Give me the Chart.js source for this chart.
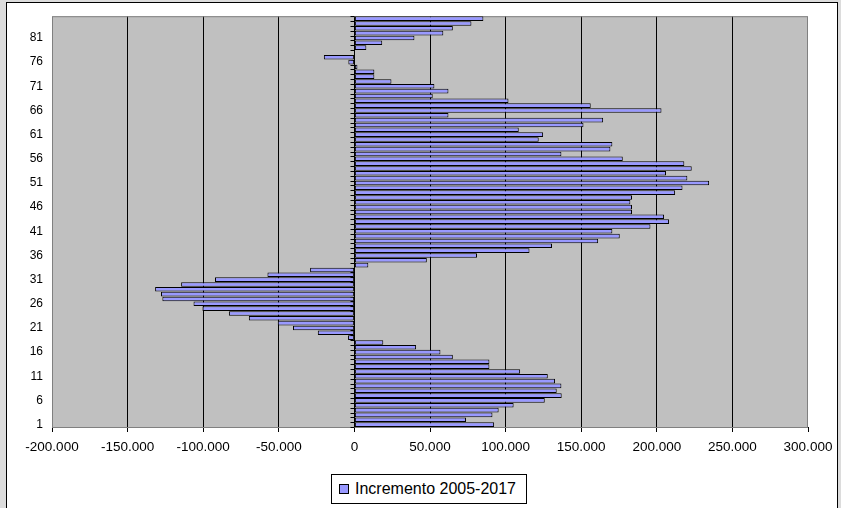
<!DOCTYPE html>
<html lang="es">
<head>
<meta charset="utf-8">
<title>Incremento 2005-2017</title>
<script src="https://cdn.jsdelivr.net/npm/chart.js@4.4.1/dist/chart.umd.min.js"></script>
<style>
  html, body { margin: 0; padding: 0; }
  body {
    width: 841px; height: 508px; overflow: hidden; position: relative;
    background: #dcdcdc;
    font-family: "Liberation Sans", Arial, sans-serif;
  }
  #marco {
    position: absolute; left: 6px; top: 2px; width: 830px; height: 520px;
    background: #fff; border: 1px solid #000;
  }
  #contenedor { position: absolute; left: 0; top: 0; width: 841px; height: 508px; }
  #leyenda {
    position: absolute; left: 331px; top: 474px; width: 194px; height: 28px;
    border: 1px solid #000; background: #fff;
    display: flex; align-items: center; font-size: 16px; color: #000;
  }
  #leyenda .marca {
    width: 8px; height: 8px; background: #9999ff; border: 1px solid #000;
    margin-left: 7px; margin-right: 6px;
  }
</style>
</head>
<body>
<div id="marco"></div>
<div id="contenedor"><canvas id="grafica"></canvas></div>
<div id="leyenda"><span class="marca"></span><span id="leyenda-texto"></span></div>

<script>
// Datos de la gráfica
const serieNombre = 'Incremento 2005-2017';

const edades = [
    '1', '2', '3', '4', '5', '6', '7', '8', '9', '10',
    '11', '12', '13', '14', '15', '16', '17', '18', '19', '20',
    '21', '22', '23', '24', '25', '26', '27', '28', '29', '30',
    '31', '32', '33', '34', '35', '36', '37', '38', '39', '40',
    '41', '42', '43', '44', '45', '46', '47', '48', '49', '50',
    '51', '52', '53', '54', '55', '56', '57', '58', '59', '60',
    '61', '62', '63', '64', '65', '66', '67', '68', '69', '70',
    '71', '72', '73', '74', '75', '76', '77', '78', '79', '80',
    '81', '82', '83', '84', '85'
];

const incremento = [
    92400, 73800, 91300, 95400, 105300, 125900, 137100, 133800, 136900, 132700,
    127900, 109600, 89300, 89300, 65100, 56900, 40800, 19100, -4200, -24200,
    -40600, -50700, -69800, -83000, -100500, -106400, -127000, -127900, -131800, -114600,
    -92200, -57500, -29300, 9200, 47900, 81100, 115800, 130700, 161200, 175500,
    170600, 195800, 208100, 204800, 183600, 183600, 182500, 183600, 212100, 217000,
    234600, 220200, 206100, 223100, 218200, 177500, 136900, 169300, 170600, 121900,
    124800, 108700, 151500, 164500, 62200, 203100, 156300, 101900, 51800, 62200,
    52900, 24500, 13200, 13200, 2000, -4000, -20200, 0, 7900, 18400,
    39700, 58800, 65100, 77400, 85300
];

// Etiquetas que se muestran en el eje de edades
const etiquetasVisibles = ['1', '6', '11', '16', '21', '26', '31', '36', '41', '46', '51', '56', '61', '66', '71', '76', '81'];

// Rango del eje de valores
const minX = -200000;
const maxX = 300000;
const pasoX = 50000;

// Formato con punto como separador de miles
function formatoMiles(v) {
    const s = Math.abs(v).toString().replace(/\B(?=(\d{3})+(?!\d))/g, '.');
    return (v < 0 ? '-' : '') + s;
}

// Fondo gris del área de trazado y marcas sobre el eje del cero
const fondoGrafica = {
    id: 'fondoGrafica',
    beforeDraw(chart) {
        const { ctx, chartArea: a } = chart;
        ctx.save();
        ctx.fillStyle = '#c0c0c0';
        ctx.fillRect(a.left, a.top, a.right - a.left, a.bottom - a.top);
        ctx.restore();
    },
    beforeDatasetsDraw(chart) {
        const { ctx, chartArea: a } = chart;
        const x0 = Math.round(chart.scales.x.getPixelForValue(0)) + 0.5;
        const escalaY = chart.scales.y;
        ctx.save();
        ctx.strokeStyle = '#808080';
        ctx.lineWidth = 1;
        ctx.strokeRect(a.left + 0.5, a.top + 0.5, a.right - a.left - 1, a.bottom - a.top);
        ctx.strokeStyle = '#000';
        ctx.beginPath();
        for (let i = 0; i <= edades.length; i++) {
            const py = Math.round(escalaY.getPixelForValue(i - 0.5)) + 0.5;
            ctx.moveTo(x0 - 4, py);
            ctx.lineTo(x0, py);
        }
        ctx.stroke();
        ctx.restore();
    }
};

Chart.defaults.font.family = '"Liberation Sans", Arial, sans-serif';
Chart.defaults.color = '#000';

document.getElementById('leyenda-texto').textContent = serieNombre;

const ctxGrafica = document.getElementById('grafica').getContext('2d');

let grafica = new Chart(ctxGrafica, {
    type: 'bar',
    data: {
        labels: edades,
        datasets: [{
            label: serieNombre,
            data: incremento,
            backgroundColor: '#9999ff',
            borderColor: '#000',
            borderWidth: 1,
            borderSkipped: false,
            barPercentage: 0.95,
            categoryPercentage: 1
        }]
    },
    options: {
        indexAxis: 'y',
        responsive: true,
        maintainAspectRatio: false,
        animation: false,
        layout: { padding: { left: 0, top: 16, right: 33, bottom: 51 } },
        plugins: {
            legend: { display: false },
            tooltip: { enabled: false }
        },
        scales: {
            x: {
                min: minX,
                max: maxX,
                ticks: {
                    stepSize: pasoX,
                    callback: (v) => formatoMiles(v),
                    font: { size: 13.5 },
                    padding: 7,
                    maxRotation: 0
                },
                grid: {
                    color: (c) => (c.tick && (c.tick.value === minX || c.tick.value === maxX)) ? 'rgba(0,0,0,0)' : '#000',
                    tickColor: '#000',
                    tickLength: 5,
                    lineWidth: 1
                },
                border: { color: '#000' },
                afterFit: (s) => { s.height = 30; }
            },
            y: {
                reverse: true,
                ticks: {
                    autoSkip: false,
                    callback: (v, i) => etiquetasVisibles.includes(edades[i]) ? edades[i] : '',
                    font: { size: 12 },
                    padding: 9
                },
                grid: { display: false, drawTicks: false },
                border: { display: false },
                afterFit: (s) => { s.width = 52; }
            }
        }
    },
    plugins: [fondoGrafica]
});
</script>
</body>
</html>
